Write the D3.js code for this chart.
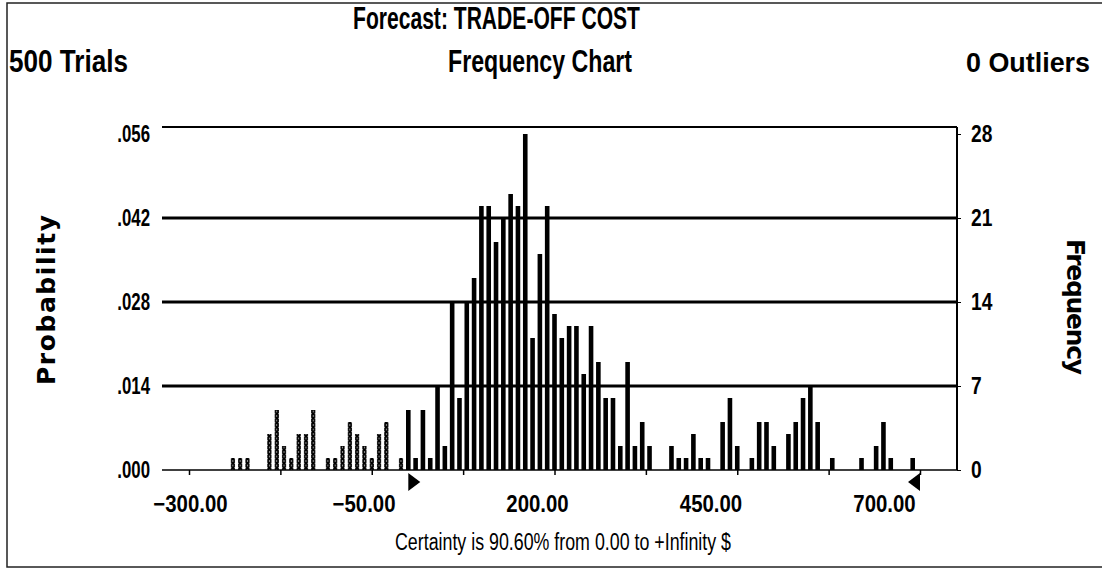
<!DOCTYPE html>
<html>
<head>
<meta charset="utf-8">
<script src="https://cdn.jsdelivr.net/npm/d3@7"></script>
<style>
  html, body { margin: 0; padding: 0; background: #fff; }
  svg { display: block; }
</style>
</head>
<body>
<div class="chart-container"></div>
<script>
const totalWidth = 1102;
const totalHeight = 575;

// forecast cells (centre value) and their counts (500 trials)
const binCenters = [
  -240, -230, -220, -190, -180, -170, -160, -150, -140, -130,
  -110, -100, -90, -80, -70, -60, -50, -40, -30, -10,
  0, 10, 20, 30, 40, 50, 60, 70, 80, 90,
  100, 110, 120, 130, 140, 150, 160, 170, 180, 190,
  200, 210, 220, 230, 240, 250, 260, 270, 280, 290,
  300, 310, 320, 330, 360, 370, 380, 390, 400, 410,
  430, 440, 450, 470, 480, 490, 500, 520, 530, 540,
  550, 560, 580, 620, 640, 650, 660, 690
];
const frequencies = [
  1, 1, 1, 3, 5, 2, 1, 3, 3, 5,
  1, 1, 2, 4, 3, 2, 1, 3, 4, 1,
  5, 1, 5, 1, 7, 2, 14, 6, 14, 16,
  22, 22, 19, 21, 23, 22, 28, 11, 18, 22,
  13, 11, 12, 12, 8, 12, 9, 6, 6, 2,
  9, 2, 4, 2, 2, 1, 1, 3, 1, 1,
  4, 6, 2, 1, 4, 4, 2, 3, 4, 6,
  7, 4, 1, 1, 2, 4, 1, 1
];
const trials = 500;
const binWidth = 10;
const certaintyFrom = 0;
const axisMax = 700;

const xTicks = [-300, -175, -50, 75, 200, 325, 450, 575, 700];
const xTickLabels = [-300, -50, 200, 450, 700];
const freqTicks = [0, 7, 14, 21, 28];

const titleText = 'Forecast: TRADE-OFF COST';
const trialsText = '500 Trials';
const chartText = 'Frequency Chart';
const outliersText = '0 Outliers';
const certaintyText = 'Certainty is 90.60% from 0.00 to +Infinity $';

const font = '"Liberation Sans", Arial, sans-serif';

// plot frame
const plotLeft = 162, plotRight = 957, plotTop = 127, baseline = 470;

const svg = d3.select('body').select('.chart-container')
    .append('svg')
    .attr('width', totalWidth)
    .attr('height', totalHeight);

svg.append('rect')
    .attr('x', 7).attr('y', 3)
    .attr('width', 1110).attr('height', 564)
    .attr('fill', '#fff')
    .attr('stroke', '#222')
    .attr('stroke-width', 1.5);

const x = d3.scaleLinear().domain([-300, 700]).range([189, 920]);
// the printed labels sit a little left of their ticks in the original
const xLabel = d3.scaleLinear().domain([-300, 700]).range([190, 884]);
const y = d3.scaleLinear().domain([0, 28]).range([baseline, 134]);

const binPx = x(binWidth) - x(0);
const barW = 4.6;

// squeeze text to mimic the narrow printer font
function condense(sel, factor) {
    sel.each(function() {
        const w = this.getComputedTextLength();
        d3.select(this)
            .attr('textLength', w * factor)
            .attr('lengthAdjust', 'spacingAndGlyphs');
    });
}

// hatched fill for cells outside the certainty range
const defs = svg.append('defs');
const pat = defs.append('pattern')
    .attr('id', 'outside')
    .attr('patternUnits', 'userSpaceOnUse')
    .attr('x', x(binCenters[0]) - barW / 2)
    .attr('y', baseline)
    .attr('width', binPx)
    .attr('height', 4.5);
pat.append('rect').attr('width', binPx).attr('height', 4.5).attr('fill', '#fff');
pat.append('path')
    .attr('d', `M0.3,0.2L${barW - 0.3},4.3M${barW - 0.3},0.2L0.3,4.3`)
    .attr('stroke', '#000')
    .attr('stroke-width', 2.1)
    .attr('fill', 'none');

// grid lines
svg.append('g')
    .selectAll('line')
    .data(freqTicks.filter(d => d > 0 && d < 28))
    .enter()
    .append('line')
    .attr('x1', plotLeft).attr('x2', plotRight)
    .attr('y1', d => y(d)).attr('y2', d => y(d))
    .attr('stroke', '#000')
    .attr('stroke-width', 2.8);

svg.append('line')
    .attr('x1', plotLeft).attr('x2', plotRight)
    .attr('y1', plotTop).attr('y2', plotTop)
    .attr('stroke', '#000').attr('stroke-width', 2.2);

svg.append('line')
    .attr('x1', plotRight).attr('x2', plotRight)
    .attr('y1', plotTop).attr('y2', baseline)
    .attr('stroke', '#000').attr('stroke-width', 2);

// bars
const cells = binCenters.map((c, i) => ({center: c, count: frequencies[i]}));
svg.append('g')
    .selectAll('rect')
    .data(cells)
    .enter()
    .append('rect')
    .attr('x', d => x(d.center) - barW / 2)
    .attr('y', d => y(d.count))
    .attr('width', barW)
    .attr('height', d => baseline - y(d.count))
    .attr('fill', d => d.center >= certaintyFrom ? '#000' : 'url(#outside)');

svg.append('line')
    .attr('x1', plotLeft).attr('x2', plotRight)
    .attr('y1', baseline).attr('y2', baseline)
    .attr('stroke', '#000').attr('stroke-width', 1.5);

// x axis: ticks, then the labels
svg.append('g')
    .attr('transform', `translate(0,${baseline})`)
    .call(d3.axisBottom(x).tickValues(xTicks).tickSize(5).tickFormat(''))
    .call(g => g.select('.domain').remove())
    .call(g => g.selectAll('line').attr('stroke-width', 1.5));

svg.append('g')
    .attr('transform', `translate(0,${baseline})`)
    .call(d3.axisBottom(xLabel).tickValues(xTickLabels).tickSize(0).tickPadding(25).tickFormat(d3.format('.2f')))
    .call(g => g.select('.domain').remove())
    .call(g => g.selectAll('text')
        .attr('font-family', font)
        .attr('font-weight', 'bold')
        .attr('font-size', 24)
        .attr('fill', '#000')
        .call(condense, 0.85));

// probability (left) and frequency (right) axes
const probFormat = d => d3.format('.3f')(d / trials).replace(/^0/, '');
svg.append('g')
    .attr('transform', `translate(${plotLeft},0)`)
    .call(d3.axisLeft(y).tickValues(freqTicks).tickSize(0).tickPadding(12).tickFormat(probFormat))
    .call(g => g.select('.domain').remove())
    .call(g => g.selectAll('text')
        .attr('font-family', font)
        .attr('font-weight', 'bold')
        .attr('font-size', 24)
        .attr('fill', '#000')
        .call(condense, 0.7));

svg.append('g')
    .attr('transform', `translate(${plotRight},0)`)
    .call(d3.axisRight(y).tickValues(freqTicks).tickSize(4).tickPadding(10))
    .call(g => g.select('.domain').remove())
    .call(g => g.selectAll('text')
        .attr('font-family', font)
        .attr('font-weight', 'bold')
        .attr('font-size', 24)
        .attr('fill', '#000')
        .call(condense, 0.8));

// certainty markers
svg.append('path')
    .attr('d', `M${x(certaintyFrom)},${baseline + 3}L${x(certaintyFrom) + 12},${baseline + 12}L${x(certaintyFrom)},${baseline + 21}Z`)
    .attr('fill', '#000');
svg.append('path')
    .attr('d', `M${x(axisMax)},${baseline + 3}L${x(axisMax) - 12},${baseline + 12}L${x(axisMax)},${baseline + 21}Z`)
    .attr('fill', '#000');

// titles
const heading = (txt, xPos, yPos, len, size) => svg.append('text')
    .attr('x', xPos).attr('y', yPos)
    .attr('font-family', font)
    .attr('font-weight', 'bold')
    .attr('font-size', size)
    .attr('textLength', len)
    .attr('lengthAdjust', 'spacingAndGlyphs')
    .text(txt);

heading(titleText, 353, 29, 287, 31);
heading(trialsText, 9, 72, 119, 31);
heading(chartText, 448, 72, 184, 31);
heading(outliersText, 966, 72, 124, 27);

svg.append('text')
    .attr('x', 395).attr('y', 550)
    .attr('font-family', font)
    .attr('font-size', 23)
    .attr('textLength', 336)
    .attr('lengthAdjust', 'spacingAndGlyphs')
    .text(certaintyText);

svg.append('text')
    .attr('transform', 'translate(55,300) rotate(-90)')
    .attr('text-anchor', 'middle')
    .attr('font-family', '"DejaVu Sans", sans-serif')
    .attr('font-weight', 'bold')
    .attr('font-size', 25)
    .attr('textLength', 170)
    .attr('lengthAdjust', 'spacing')
    .text('Probability');

svg.append('text')
    .attr('transform', 'translate(1067,307) rotate(90)')
    .attr('text-anchor', 'middle')
    .attr('font-family', '"DejaVu Sans", sans-serif')
    .attr('font-weight', 'bold')
    .attr('font-size', 25)
    .attr('textLength', 136)
    .attr('lengthAdjust', 'spacing')
    .text('Frequency');
</script>
</body>
</html>
